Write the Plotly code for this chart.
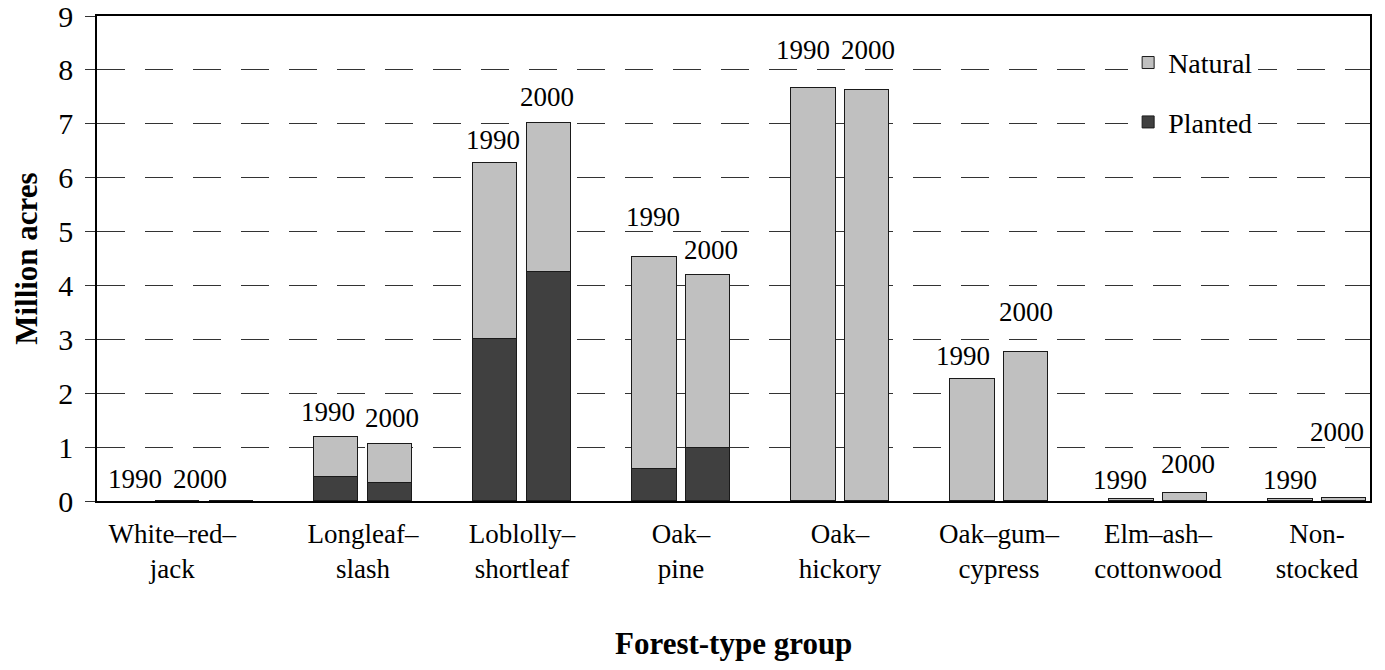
import plotly.graph_objects as go

# ---------------- data ----------------
categories = ["White–red–jack", "Longleaf–slash", "Loblolly–shortleaf", "Oak–pine",
              "Oak–hickory", "Oak–gum–cypress", "Elm–ash–cottonwood", "Non-stocked"]
tick_labels = ["White–red–<br>jack", "Longleaf–<br>slash", "Loblolly–<br>shortleaf", "Oak–<br>pine",
               "Oak–<br>hickory", "Oak–gum–<br>cypress", "Elm–ash–<br>cottonwood", "Non-<br>stocked"]
years = ["1990", "2000"]
planted_1990 = [0.00, 0.45, 3.00, 0.59, 0.00, 0.00, 0.00, 0.00]
natural_1990 = [0.00, 0.74, 3.27, 3.93, 7.67, 2.26, 0.03, 0.03]
planted_2000 = [0.00, 0.33, 4.25, 0.98, 0.00, 0.00, 0.00, 0.00]
natural_2000 = [0.00, 0.73, 2.76, 3.21, 7.63, 2.76, 0.15, 0.06]
y_ticks = [0, 1, 2, 3, 4, 5, 6, 7, 8, 9]

# ---------------- layout helpers (positions / styles) ----------------
FONT = "Liberation Serif, Times New Roman, serif"
BAR_OFFSET = 0.167
BAR_WIDTH = 0.277
tick_positions = [-0.2, 1, 2, 3, 4, 5, 6, 7]
# year label positions (x in category units, y in value units)
label_pos_1990 = [(-0.434, 0.41), (0.78, 1.65), (1.82, 6.70), (2.824, 5.27),
                  (3.767, 8.37), (4.774, 2.69), (5.76, 0.39), (6.83, 0.39)]
label_pos_2000 = [(-0.025, 0.41), (1.182, 1.54), (2.157, 7.50), (3.189, 4.66),
                  (4.176, 8.37), (5.17, 3.51), (6.19, 0.69), (7.126, 1.28)]

n = len(categories)
x1990 = [i - BAR_OFFSET for i in range(n)]
x2000 = [i + BAR_OFFSET for i in range(n)]

NATURAL_COLOR = "#C0C0C0"
PLANTED_COLOR = "#404040"
line_style = dict(color="#1a1a1a", width=1)

fig = go.Figure()
fig.add_trace(go.Bar(
    x=x1990 + x2000, y=planted_1990 + planted_2000, width=BAR_WIDTH,
    name="Planted", legendgroup="p", legendrank=2,
    marker=dict(color=PLANTED_COLOR, line=line_style),
    customdata=categories * 2,
))
fig.add_trace(go.Bar(
    x=x1990 + x2000, y=natural_1990 + natural_2000, width=BAR_WIDTH,
    name="Natural", legendgroup="n", legendrank=1,
    marker=dict(color=NATURAL_COLOR, line=line_style),
    customdata=categories * 2,
))

annotations = []
for (px, py) in label_pos_1990:
    annotations.append(dict(x=px, y=py, xref="x", yref="y", text=years[0], showarrow=False,
                            font=dict(family=FONT, size=27, color="black"),
                            xanchor="center", yanchor="middle"))
for (px, py) in label_pos_2000:
    annotations.append(dict(x=px, y=py, xref="x", yref="y", text=years[1], showarrow=False,
                            font=dict(family=FONT, size=27, color="black"),
                            xanchor="center", yanchor="middle"))

# axis titles
annotations.append(dict(x=0.5, y=-0.294, xref="paper", yref="paper", text="<b>Forest-type group</b>",
                        showarrow=False, font=dict(family=FONT, size=31, color="black"),
                        xanchor="center", yanchor="middle"))
annotations.append(dict(x=-0.0555, y=0.5, xref="paper", yref="paper", text="<b>Million acres</b>",
                        showarrow=False, textangle=-90, borderpad=0,
                        font=dict(family=FONT, size=31, color="black"),
                        xanchor="center", yanchor="middle"))

# page body has an 8px margin: figure sized to fit the window without scrollbars
fig.update_layout(
    width=1369, height=654,
    margin=dict(l=89, r=7, t=8, b=161),
    barmode="stack",
    bargap=0,
    plot_bgcolor="white", paper_bgcolor="white",
    font=dict(family=FONT, color="black"),
    showlegend=True,
    legend=dict(x=0.810, y=0.955, xanchor="left", yanchor="top",
                traceorder="grouped", tracegroupgap=20,
                font=dict(family=FONT, size=28, color="black"),
                bgcolor="rgba(255,255,255,1)", borderwidth=0),
    annotations=annotations,
)
fig.update_xaxes(
    range=[-0.673, 7.333], tickvals=tick_positions, ticktext=tick_labels,
    tickfont=dict(family=FONT, size=27, color="black"), automargin=False,
    showline=True, linecolor="black", linewidth=1.5, mirror=True,
    showgrid=False, zeroline=False, ticks="", ticklabelstandoff=8,
)
fig.update_yaxes(
    range=[0, 9], tickmode="array", tickvals=y_ticks, ticktext=[str(v) for v in y_ticks],
    tickfont=dict(family=FONT, size=30, color="black"), ticklabeloverflow="allow",
    automargin=False,
    showline=True, linecolor="black", linewidth=1.5, mirror=True,
    showgrid=True, gridcolor="#333333", gridwidth=1, griddash="28px,20px",
    zeroline=False, ticks="outside", ticklen=10, tickcolor="#333333", tickwidth=1,
    ticklabelstandoff=6,
)

fig.write_html("out.html")
